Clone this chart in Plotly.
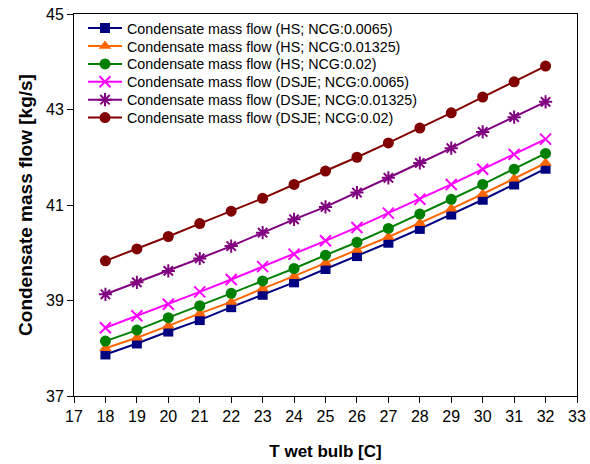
import plotly.graph_objects as go

t_wet_bulb = list(range(18, 33))

hs_00065 = [37.87, 38.10, 38.35, 38.59, 38.86, 39.12, 39.38, 39.66, 39.93, 40.21, 40.50, 40.80, 41.11, 41.43, 41.76]
hs_001325 = [38.00, 38.22, 38.47, 38.73, 38.97, 39.25, 39.51, 39.79, 40.06, 40.33, 40.62, 40.92, 41.23, 41.55, 41.88]
hs_002 = [38.15, 38.38, 38.64, 38.89, 39.15, 39.41, 39.67, 39.95, 40.22, 40.51, 40.81, 41.12, 41.43, 41.75, 42.08]
dsje_00065 = [38.43, 38.68, 38.92, 39.18, 39.44, 39.71, 39.97, 40.25, 40.53, 40.83, 41.12, 41.43, 41.75, 42.06, 42.38]
dsje_001325 = [39.13, 39.38, 39.62, 39.88, 40.14, 40.42, 40.70, 40.96, 41.26, 41.57, 41.88, 42.19, 42.53, 42.84, 43.16]
dsje_002 = [39.83, 40.08, 40.34, 40.61, 40.87, 41.14, 41.43, 41.71, 42.00, 42.30, 42.61, 42.93, 43.26, 43.58, 43.91]

series_names = [
    "Condensate mass flow (HS; NCG:0.0065)",
    "Condensate mass flow (HS; NCG:0.01325)",
    "Condensate mass flow (HS; NCG:0.02)",
    "Condensate mass flow (DSJE; NCG:0.0065)",
    "Condensate mass flow (DSJE; NCG:0.01325)",
    "Condensate mass flow (DSJE; NCG:0.02)",
]
series_values = [hs_00065, hs_001325, hs_002, dsje_00065, dsje_001325, dsje_002]
colors = ["#000080", "#FF6600", "#008000", "#FF00FF", "#800080", "#800000"]
symbols = ["square", "triangle-up", "circle", "x-thin", "asterisk", "circle"]
sizes = [10, 11, 11, 11, 11, 11]

W, H = 590, 464
M_L, M_R, M_T, M_B = 74, 13, 14, 68
plot_h = H - M_T - M_B
plot_w = W - M_L - M_R

fig = go.Figure()
legend_layout = {}
for i, (name, vals, c, s, sz) in enumerate(zip(series_names, series_values, colors, symbols, sizes)):
    key = "legend" if i == 0 else f"legend{i + 1}"
    marker = dict(symbol=s, size=sz, color=c,
                  line=dict(color=c, width=2 if s in ("x-thin", "asterisk") else 0))
    fig.add_trace(go.Scatter(x=t_wet_bulb, y=vals, mode="lines+markers", name=name,
                             line=dict(color=c, width=2), marker=marker, legend=key))
    yc = 28.3 + 17.9 * i  # entry centre in px from top of page
    legend_layout[key] = dict(
        x=(83 - M_L) / plot_w, y=(H - M_B - yc) / plot_h,
        xanchor="left", yanchor="middle", bgcolor="rgba(0,0,0,0)",
        font=dict(size=14.3), itemwidth=34, borderwidth=0,
    )

fig.update_layout(
    width=W, height=H,
    margin=dict(l=M_L, r=M_R, t=M_T, b=M_B, autoexpand=False),
    paper_bgcolor="white", plot_bgcolor="white",
    font=dict(family="Liberation Sans, Arial, sans-serif", size=16, color="black"),
    showlegend=True,
    xaxis=dict(range=[17, 33], dtick=1, tick0=17, showgrid=False, zeroline=False,
               showline=True, linecolor="black", linewidth=1, mirror=True,
               ticks="outside", ticklen=6, tickcolor="black", automargin=False,
               title=dict(text="<b>T wet bulb [C]</b>", font=dict(size=17), standoff=20)),
    yaxis=dict(range=[37, 45], dtick=2, tick0=37, showgrid=False, zeroline=False,
               showline=True, linecolor="black", linewidth=1, mirror=True,
               ticks="outside", ticklen=6, tickcolor="black", automargin=False,
               title=dict(text="<b>Condensate mass flow [kg/s]</b>", font=dict(size=19), standoff=8)),
    **legend_layout,
)

fig.write_html("out.html")
